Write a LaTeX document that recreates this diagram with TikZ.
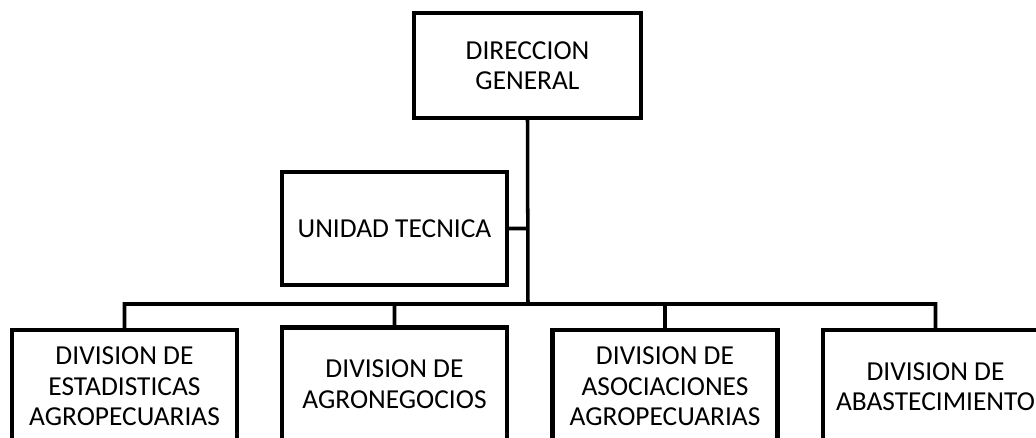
\documentclass[tikz,border=0pt]{standalone}
\usepackage{fontspec}
\setmainfont{Carlito}
\usepackage{tikz}
\usetikzlibrary{positioning}

\begin{document}
\begin{tikzpicture}[x=0.02cm, y=-0.02cm,
                    every node/.append style = {font=\fontsize{15.6}{17.4}\selectfont},
                    unit/.style = {draw, line width=2.4pt, align=center, inner sep=2pt,
                                   minimum width=4.5cm, minimum height=2.26cm},
                    link/.style = {draw, line width=2pt}
                    ]
\tikzset{
  head/.style={unit, minimum width=4.54cm, minimum height=2.1cm},
}

\clip (0,0) rectangle (1036,437);

\node[head] (dir) at (527.5,65.5) {DIRECCION\\GENERAL};
\node[unit] (ut)  at (394.5,228.5) {UNIDAD TECNICA};

\node[unit] (d1) at (124.5,386.5) {DIVISION DE\\ESTADISTICAS\\AGROPECUARIAS};
\node[unit] (d2) at (394.5,384)   {DIVISION DE\\AGRONEGOCIOS};
\node[unit] (d3) at (665,386.5)   {DIVISION DE\\ASOCIACIONES\\AGROPECUARIAS};
\node[unit] (d4) at (935.5,386.5) {DIVISION DE\\ABASTECIMIENTO};

\coordinate (bus) at (528,304);

\path[link]
    (dir.south) -- (bus)
    (ut.east)   -- (ut.east -| bus)
    (d1.north)  |- (bus) -| (d4.north)
    (d2.north)  -- (d2.north |- bus)
    (d3.north)  -- (d3.north |- bus);
\end{tikzpicture}
\end{document}
